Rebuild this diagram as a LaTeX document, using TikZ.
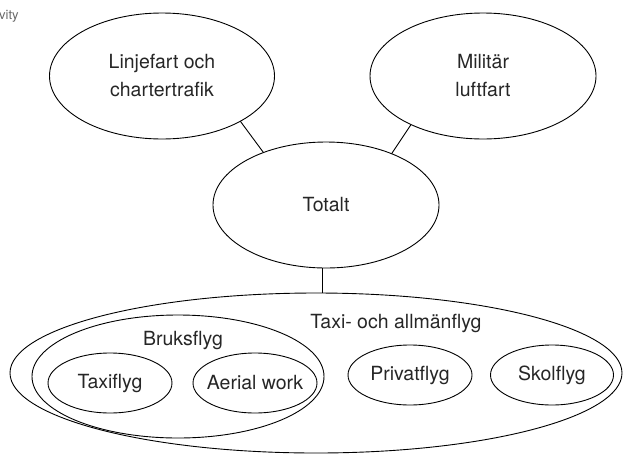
\documentclass[tikz,border=0pt]{standalone}
\usepackage{fontspec}
\setmainfont{TeX Gyre Heros}
\usetikzlibrary{shapes.geometric}

\begin{document}
\begin{tikzpicture}[x=1pt,y=-1pt,
  oval/.style={draw,ellipse,line width=0.9pt,inner sep=0pt,outer sep=0pt},
  txt/.style={font=\fontsize{19.5}{28}\selectfont,text=black!85,align=center,inner sep=0pt},
  link/.style={line width=0.9pt}]
\useasboundingbox (0,0) rectangle (623,453);
\node[anchor=base west,inner sep=0pt,text=black!60,font=\fontsize{13}{15}\selectfont] (vity) at (-1,19) {vity};
\coordinate (L) at (162,76);
\node[oval,minimum width=225,minimum height=126,label={[txt]center:{Linjefart och\\chartertrafik}}] (linje) at (L) {};
\coordinate (M) at (483,76);
\node[oval,minimum width=226,minimum height=126,label={[txt]center:{Militär\\luftfart}}] (militar) at (M) {};
\coordinate (T) at (326,205);
\node[oval,minimum width=226,minimum height=126,label={[txt]center:Totalt}] (totalt) at (T) {};
\coordinate (A) at (316,373);
\node[oval,minimum width=612,minimum height=160] (alle) at (A) {};
\node[txt] (alletxt) at (396,323) {Taxi- och allmänflyg};
\coordinate (B) at (178,376.5);
\node[oval,minimum width=292,minimum height=123] (bruks) at (B) {};
\node[txt] (brukstxt) at (183,340) {Bruksflyg};
\node[oval,minimum width=124,minimum height=60,label={[txt]center:Taxiflyg}] (taxi) at (110,383) {};
\node[oval,minimum width=124,minimum height=60,label={[txt]center:Aerial work}] (aerial) at (255,383) {};
\node[oval,minimum width=124,minimum height=60,label={[txt]center:Privatflyg}] (privat) at (410,375) {};
\node[oval,minimum width=123,minimum height=60,label={[txt]center:Skolflyg}] (skol) at (552,375) {};
\draw[link] (linje.-30) -- (totalt.140);
\draw[link] (militar.-146) -- (totalt.38);
\draw[link] (totalt.-93) -- (totalt.-93 |- alle.north);
\end{tikzpicture}
\end{document}
